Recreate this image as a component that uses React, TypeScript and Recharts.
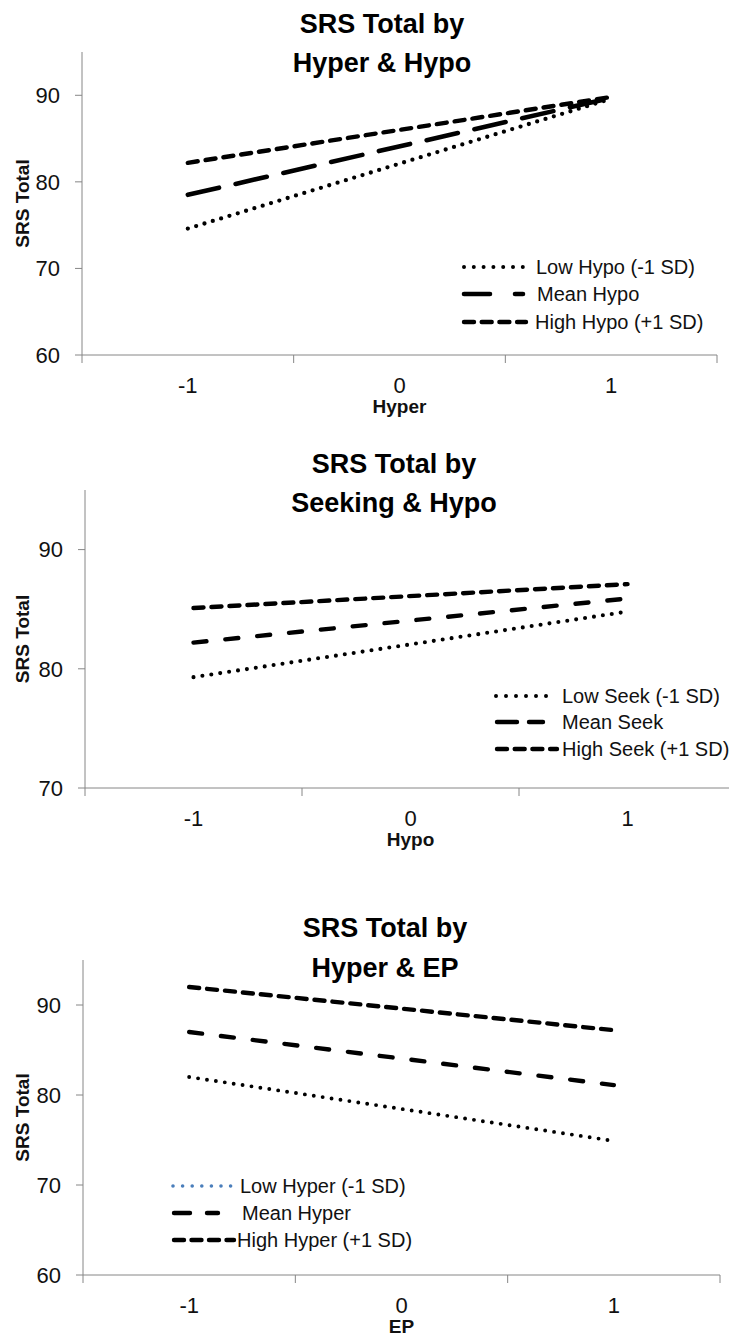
import React from 'react';
import { LineChart, Line, XAxis, YAxis, Customized } from 'recharts';

// ---------- data ----------
const xValues = [-1, 1];
const xTickValues = [-1.5, -1, -0.5, 0, 0.5, 1, 1.5];

const c1Low = [74.6, 89.6];
const c1Mean = [78.5, 89.7];
const c1High = [82.2, 89.8];
const c1Names = ['Low Hypo (-1 SD)', 'Mean Hypo', 'High Hypo (+1 SD)'];
const c1YTicks = [60, 70, 80, 90];

const c2Low = [79.3, 84.8];
const c2Mean = [82.2, 85.9];
const c2High = [85.1, 87.1];
const c2Names = ['Low Seek (-1 SD)', 'Mean Seek', 'High Seek (+1 SD)'];
const c2YTicks = [70, 80, 90];

const c3Low = [82.0, 74.9];
const c3Mean = [87.0, 81.1];
const c3High = [92.0, 87.2];
const c3Names = ['Low Hyper (-1 SD)', 'Mean Hyper', 'High Hyper (+1 SD)'];
const c3YTicks = [60, 70, 80, 90];

const buildData = (low: number[], mean: number[], high: number[]) =>
  xValues.map((x, i) => ({ x, low: low[i], mean: mean[i], high: high[i] }));

// ---------- styling ----------
const FONT = "'Liberation Sans', Arial, sans-serif";
const AXIS = '#868686';
const INK = '#111';

type Stroke = { width: number; dash: string; color: string };

type Cfg = {
  top: number;
  width: number;
  height: number;
  marginTop: number;
  yAxisW: number;
  marginRight: number;
  xAxisH: number;
  domain: [number, number];
  yTicks: number[];
  data: any[];
  names: string[];
  title: [string, string];
  titleX: number;
  titleY: [number, number];
  xTitle: string;
  strokes: Stroke[];
  legendRows: number[];
  legend: { x1: number; x2: number; dash: string; color: string; width: number }[];
  legendTextX: number[];
};

const cfgs: Cfg[] = [
  {
    top: 0,
    width: 729,
    height: 440,
    marginTop: 52,
    yAxisW: 82,
    marginRight: 12,
    xAxisH: 85,
    domain: [60, 95],
    yTicks: c1YTicks,
    data: buildData(c1Low, c1Mean, c1High),
    names: c1Names,
    title: ['SRS Total by', 'Hyper & Hypo'],
    titleX: 382,
    titleY: [33, 72],
    xTitle: 'Hyper',
    strokes: [
      { width: 4.3, dash: '0 8.7', color: '#000' },
      { width: 4.6, dash: '32 17', color: '#000' },
      { width: 4.4, dash: '10 8', color: '#000' },
    ],
    legendRows: [267, 294, 322],
    legend: [
      { x1: 464, x2: 524, dash: '0 9.8', color: '#000', width: 4 },
      { x1: 464, x2: 523, dash: '26 25', color: '#000', width: 4.6 },
      { x1: 464, x2: 526, dash: '10 7.7', color: '#000', width: 4.4 },
    ],
    legendTextX: [536, 537, 535],
  },
  {
    top: 440,
    width: 745,
    height: 440,
    marginTop: 50,
    yAxisW: 85,
    marginRight: 9,
    xAxisH: 92,
    domain: [70, 95],
    yTicks: c2YTicks,
    data: buildData(c2Low, c2Mean, c2High),
    names: c2Names,
    title: ['SRS Total by', 'Seeking & Hypo'],
    titleX: 394,
    titleY: [33, 72],
    xTitle: 'Hypo',
    strokes: [
      { width: 4.1, dash: '0 9', color: '#000' },
      { width: 4.4, dash: '13 19', color: '#000' },
      { width: 4.4, dash: '10 8', color: '#000' },
    ],
    legendRows: [256, 282, 309],
    legend: [
      { x1: 496, x2: 556, dash: '0 10', color: '#000', width: 4 },
      { x1: 497, x2: 543, dash: '20 12', color: '#000', width: 4.4 },
      { x1: 497, x2: 557, dash: '10 7.7', color: '#000', width: 4.4 },
    ],
    legendTextX: [562, 562, 562],
  },
  {
    top: 880,
    width: 729,
    height: 461,
    marginTop: 80,
    yAxisW: 83,
    marginRight: 9,
    xAxisH: 66,
    domain: [60, 95],
    yTicks: c3YTicks,
    data: buildData(c3Low, c3Mean, c3High),
    names: c3Names,
    title: ['SRS Total by', 'Hyper & EP'],
    titleX: 385,
    titleY: [57, 97],
    xTitle: 'EP',
    strokes: [
      { width: 3.9, dash: '0 9', color: '#000' },
      { width: 4.4, dash: '13 19', color: '#000' },
      { width: 4.4, dash: '10 8', color: '#000' },
    ],
    legendRows: [306, 333, 360],
    legend: [
      { x1: 173, x2: 231, dash: '0 9.6', color: '#4a7ebb', width: 3.6 },
      { x1: 174, x2: 218, dash: '16 17', color: '#000', width: 4.4 },
      { x1: 174, x2: 234, dash: '10 7.5', color: '#000', width: 4.4 },
    ],
    legendTextX: [240, 242, 237],
  },
];

const keys = ['low', 'mean', 'high'];

const XTick = (props: any) => {
  const { x, y, payload } = props;
  const v = Number(payload.value);
  const isInt = Math.abs(v - Math.round(v)) < 0.01;
  if (!isInt) {
    return <line x1={x} y1={y} x2={x} y2={y + 8} stroke={AXIS} strokeWidth={1} />;
  }
  return (
    <text x={x} y={y + 38} textAnchor="middle" fontFamily={FONT} fontSize={22} fill={INK}>
      {String(v)}
    </text>
  );
};

const makeXLabel = (text: string) => (props: any) => {
  const vb = props.viewBox || {};
  return (
    <text
      x={vb.x + vb.width / 2}
      y={vb.y + 58}
      textAnchor="middle"
      fontFamily={FONT}
      fontWeight="bold"
      fontSize={19}
      fill={INK}
    >
      {text}
    </text>
  );
};

const makeYLabel = (text: string) => (props: any) => {
  const vb = props.viewBox || {};
  const cy = vb.y + vb.height / 2;
  const cx = 29;
  return (
    <text
      x={cx}
      y={cy}
      transform={`rotate(-90, ${cx}, ${cy})`}
      textAnchor="middle"
      fontFamily={FONT}
      fontWeight="bold"
      fontSize={19}
      fill={INK}
    >
      {text}
    </text>
  );
};

const Decorations = ({ cfg }: { cfg: Cfg }) => (
  <g>
    {cfg.title.map((t, i) => (
      <text
        key={'t' + i}
        x={cfg.titleX}
        y={cfg.titleY[i]}
        textAnchor="middle"
        fontFamily={FONT}
        fontWeight="bold"
        fontSize={27}
        fill="#000"
      >
        {t}
      </text>
    ))}
    {cfg.names.map((n, i) => {
      const s = cfg.legend[i];
      const ry = cfg.legendRows[i];
      return (
        <g key={'l' + i}>
          <line
            x1={s.x1}
            y1={ry}
            x2={s.x2}
            y2={ry}
            stroke={s.color}
            strokeWidth={s.width}
            strokeDasharray={s.dash}
            strokeLinecap="round"
          />
          <text
            x={cfg.legendTextX[i]}
            y={ry}
            dy="0.36em"
            fontFamily={FONT}
            fontSize={20}
            fill={INK}
          >
            {n}
          </text>
        </g>
      );
    })}
  </g>
);

const OneChart = ({ cfg }: { cfg: Cfg }) => (
  <div style={{ position: 'absolute', left: 0, top: cfg.top, width: cfg.width, height: cfg.height }}>
    <LineChart
      width={cfg.width}
      height={cfg.height}
      data={cfg.data}
      margin={{ top: cfg.marginTop, right: cfg.marginRight, bottom: 0, left: 0 }}
    >
      <XAxis
        dataKey="x"
        type="number"
        domain={[-1.5, 1.5]}
        ticks={xTickValues}
        interval={0}
        height={cfg.xAxisH}
        axisLine={{ stroke: AXIS, strokeWidth: 1 }}
        tickLine={false}
        tickSize={0}
        tickMargin={0}
        tick={<XTick />}
        label={makeXLabel(cfg.xTitle)}
      />
      <YAxis
        type="number"
        domain={cfg.domain}
        ticks={cfg.yTicks}
        interval={0}
        width={cfg.yAxisW}
        axisLine={{ stroke: AXIS, strokeWidth: 1 }}
        tickLine={{ stroke: AXIS, strokeWidth: 1 }}
        tickSize={7}
        tickMargin={15}
        tick={{ fontFamily: FONT, fontSize: 22, fill: INK }}
        label={makeYLabel('SRS Total')}
      />
      {keys.map((k, i) => (
        <Line
          key={k}
          dataKey={k}
          name={cfg.names[i]}
          type="linear"
          stroke={cfg.strokes[i].color}
          strokeWidth={cfg.strokes[i].width}
          strokeDasharray={cfg.strokes[i].dash}
          strokeLinecap="round"
          dot={false}
          activeDot={false}
          isAnimationActive={false}
        />
      ))}
      <Customized component={<Decorations cfg={cfg} />} />
    </LineChart>
  </div>
);

export default function App() {
  return (
    <div
      style={{
        position: 'absolute',
        left: 0,
        top: 0,
        width: 729,
        height: 1341,
        overflow: 'hidden',
        background: '#fff',
      }}
    >
      {cfgs.map((c, i) => (
        <OneChart key={i} cfg={c} />
      ))}
    </div>
  );
}
